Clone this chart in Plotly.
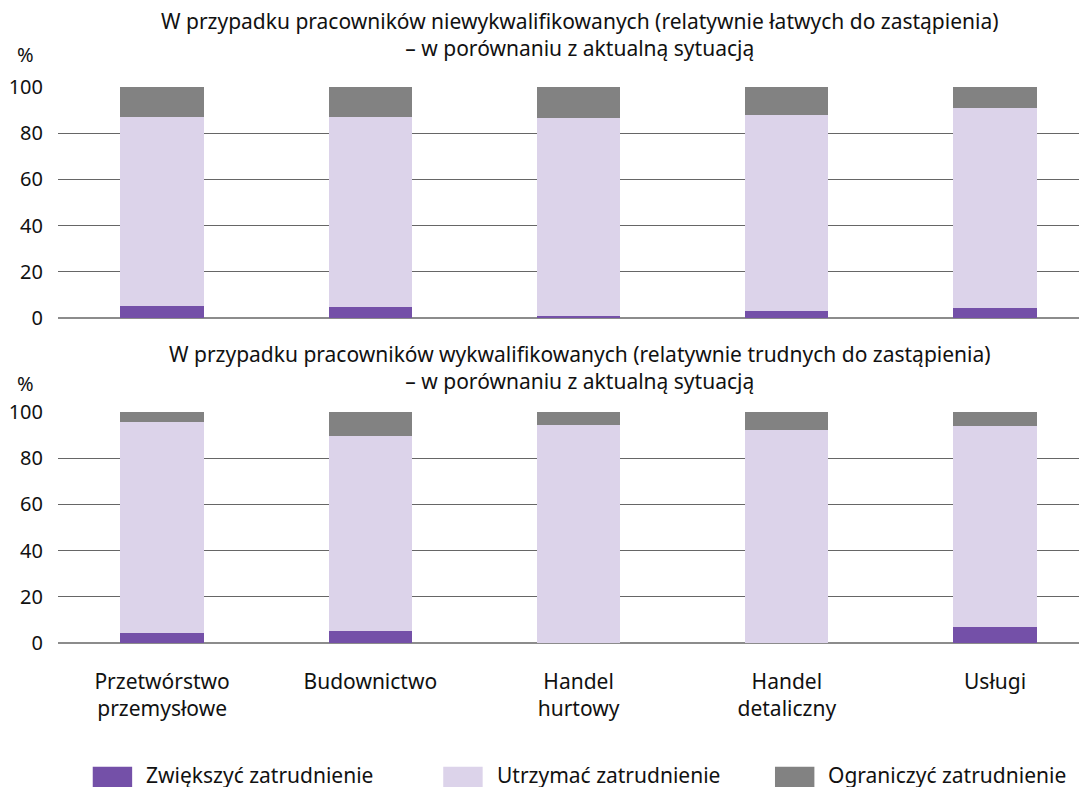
import plotly.graph_objects as go
from plotly.subplots import make_subplots

sektory = ['Przetwórstwo<br>przemysłowe', 'Budownictwo', 'Handel<br>hurtowy',
           'Handel<br>detaliczny', 'Usługi']

# pracownicy niewykwalifikowani
niewykw_zwiekszyc = [5.2, 4.8, 1.0, 3.2, 4.5]
niewykw_utrzymac = [81.8, 82.2, 85.4, 84.5, 86.3]
niewykw_ograniczyc = [13.0, 13.0, 13.6, 12.3, 9.2]

# pracownicy wykwalifikowani
wykw_zwiekszyc = [4.3, 5.3, 0.0, 0.0, 7.1]
wykw_utrzymac = [91.2, 84.2, 94.2, 92.1, 86.7]
wykw_ograniczyc = [4.5, 10.5, 5.8, 7.9, 6.2]

nazwy = ['Zwiększyć zatrudnienie', 'Utrzymać zatrudnienie', 'Ograniczyć zatrudnienie']
kolory = ['#7450a8', '#dcd3ea', '#828282']

FONT = 'Noto Sans'

fig = make_subplots(rows=2, cols=1, vertical_spacing=0.1)

panele = [
    (1, [niewykw_zwiekszyc, niewykw_utrzymac, niewykw_ograniczyc]),
    (2, [wykw_zwiekszyc, wykw_utrzymac, wykw_ograniczyc]),
]
for row, serie in panele:
    for nazwa, kolor, wartosci in zip(nazwy, kolory, serie):
        fig.add_trace(
            go.Bar(
                x=sektory,
                y=wartosci,
                name=nazwa,
                width=0.4,
                marker=dict(color=kolor, line=dict(width=0)),
                showlegend=False,
            ),
            row=row, col=1,
        )

fig.update_layout(
    barmode='stack',
    plot_bgcolor='#ffffff',
    paper_bgcolor='#ffffff',
    width=1087,
    height=787,
    margin=dict(l=50, r=0, t=0, b=0, autoexpand=False),
    font=dict(family=FONT, size=21, color='#111111'),
)

fig.update_xaxes(range=[-0.5, 4.48], showgrid=False, showline=False, ticks='')
fig.update_xaxes(showticklabels=False, row=1, col=1)
fig.update_xaxes(ticklabelstandoff=24, row=2, col=1)

fig.update_yaxes(
    range=[0, 100], dtick=20,
    showgrid=True, gridcolor='#666666', gridwidth=1,
    zeroline=True, zerolinecolor='#8c8c8c', zerolinewidth=2,
    ticklabelstandoff=14, tickfont=dict(size=20),
)
fig.update_layout(
    yaxis=dict(domain=[0.6061, 0.8996]),
    yaxis2=dict(domain=[0.1931, 0.4867]),
)

tytuly = [
    ('W przypadku pracowników niewykwalifikowanych (relatywnie łatwych do zastąpienia)'
     '<br>– w porównaniu z aktualną sytuacją', 0.9657, 0.9403),
    ('W przypadku pracowników wykwalifikowanych (relatywnie trudnych do zastąpienia)'
     '<br>– w porównaniu z aktualną sytuacją', 0.5438, 0.5235),
]
for tekst, y_tyt, y_proc in tytuly:
    fig.add_annotation(text=tekst, xref='paper', yref='paper', x=0.503, y=y_tyt,
                       showarrow=False, xanchor='center', yanchor='middle',
                       font=dict(size=21))
    fig.add_annotation(text='%', xref='paper', yref='paper', x=-0.0318, y=y_proc,
                       showarrow=False, xanchor='center', yanchor='middle',
                       font=dict(size=20))

# legenda: duże kwadraty jak w oryginale
legenda_x = [0.0335, 0.3715, 0.6914]
for nazwa, kolor, x0 in zip(nazwy, kolory, legenda_x):
    fig.add_shape(type='rect', xref='paper', yref='paper',
                  x0=x0, x1=x0 + 0.038, y0=0.0076, y1=0.036,
                  fillcolor=kolor, line=dict(width=0))
    fig.add_annotation(text=nazwa, xref='paper', yref='paper', x=x0 + 0.0495,
                       y=0.0254, showarrow=False, xanchor='left', yanchor='middle',
                       font=dict(size=21))

fig.write_html('out.html')
